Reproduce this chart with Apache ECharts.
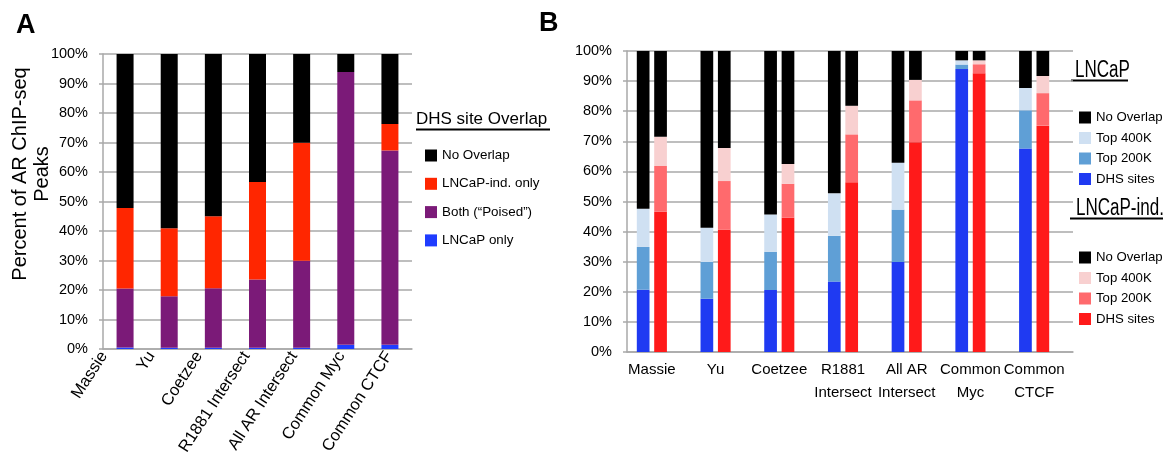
<!DOCTYPE html>
<html>
<head>
<meta charset="utf-8">
<script src="https://cdn.jsdelivr.net/npm/echarts@6/dist/echarts.min.js"></script>
<style>
  html, body { margin: 0; padding: 0; background: #fff; }
  #chart { width: 1172px; height: 458px; }
</style>
</head>
<body>
<div id="chart"></div>
<script>
// ---- Panel A: DHS site overlap of AR ChIP-seq peaks (percent of peaks) ----
const categoriesA = ['Massie', 'Yu', 'Coetzee', 'R1881 Intersect', 'All AR Intersect', 'Common Myc', 'Common CTCF'];
const lncapOnlyA  = [0.5, 0.4, 0.4, 0.4, 0.4, 1.4, 1.4];
const bothPoisedA = [20.0, 17.5, 20.2, 23.2, 29.5, 92.5, 65.9];
const lncapIndA   = [27.3, 23.0, 24.4, 33.0, 40.0, 0.0, 9.0];
const noOverlapA  = [52.2, 59.1, 55.0, 43.4, 30.1, 6.1, 23.7];

// ---- Panel B: overlap with LNCaP and LNCaP-ind. DHS sets ----
const categoriesB = ['Massie', 'Yu', 'Coetzee', 'R1881\nIntersect', 'All AR\nIntersect', 'Common\nMyc', 'Common\nCTCF'];
// LNCaP
const lncapDhs   = [20.7, 17.7, 20.6, 23.4, 29.9, 94.0, 67.6];
const lncap200k  = [14.2, 12.2, 12.7, 15.2, 17.4, 1.5, 12.7];
const lncap400k  = [12.7, 11.4, 12.4, 14.1, 15.6, 1.4, 7.4];
const lncapNone  = [52.4, 58.7, 54.3, 47.3, 37.1, 3.1, 12.3];
// LNCaP-ind.
const indDhs     = [46.6, 40.7, 44.6, 56.4, 69.7, 92.6, 75.2];
const ind200k    = [15.2, 16.1, 11.3, 15.9, 13.9, 3.0, 10.8];
const ind400k    = [9.7, 11.0, 6.6, 9.5, 6.8, 1.3, 5.7];
const indNone    = [28.5, 32.2, 37.5, 18.2, 9.6, 3.1, 8.3];

const yTicks = { min: 0, max: 100, interval: 10 };

const FONT = 'Liberation Sans, Arial, Helvetica, sans-serif';
const GRID_GRAY = '#a9a9a9';

const chart = echarts.init(document.getElementById('chart'), null, { renderer: 'canvas' });

function valueAxis(gridIndex) {
  return {
    type: 'value', gridIndex, min: yTicks.min, max: yTicks.max, interval: yTicks.interval,
    axisLine: { show: true, lineStyle: { color: GRID_GRAY, width: 1.5 } },
    axisTick: { show: true, inside: false, length: 4, lineStyle: { color: GRID_GRAY, width: 1.5 } },
    splitLine: { show: true, lineStyle: { color: GRID_GRAY, width: 1.5 } },
    axisLabel: { show: true, formatter: '{value}%', color: '#000', fontFamily: FONT, fontSize: 14.5, margin: 15 }
  };
}

function hiddenValueAxis(gridIndex) {
  return { type: 'value', gridIndex, min: 0, max: 100, show: false };
}

function barA(name, data, color) {
  return {
    name, type: 'bar', stack: 'A', data, xAxisIndex: 0, yAxisIndex: 0,
    barWidth: 17, itemStyle: { color }
  };
}

function barB(name, stack, data, color) {
  return {
    name, type: 'bar', stack, data, xAxisIndex: 2, yAxisIndex: 2,
    barWidth: 12.7, barGap: '37%', itemStyle: { color }
  };
}

const COL = {
  black: '#000000',
  redA: '#ff2600', purple: '#7b1a78', blueA: '#1f3cff',
  blue: '#1f3af2', blue200: '#5f9fd6', blue400: '#cfe0f2',
  red: '#ff1a1a', red200: '#ff6a6d', red400: '#f8d0d0'
};

const legendText = n => n.split('|')[1];

// narrow heading text for the panel B legends
function heading(text, x, y) {
  return { type: 'text', x, y, scaleX: 0.74,
           style: { text, font: '23px ' + FONT, fill: '#000', verticalAlign: 'top' } };
}

chart.setOption({
  animation: false,
  textStyle: { fontFamily: FONT },
  grid: [
    { left: 103, top: 54, width: 309, height: 295 },      // A: bars and frame
    { left: 627, top: 51, width: 446, height: 301 },      // B: frame and y axis
    { left: 620, top: 51, width: 446, height: 301 },      // B: bars and category labels
    { left: 80.25, top: 54, width: 332.5, height: 295 }   // A: slanted category labels
  ],
  xAxis: [
    { type: 'category', gridIndex: 0, data: categoriesA,
      axisLine: { show: true, lineStyle: { color: GRID_GRAY, width: 1.5 } },
      axisTick: { show: false }, axisLabel: { show: false } },
    { type: 'value', gridIndex: 1, min: 0, max: 1,
      axisLine: { show: true, lineStyle: { color: GRID_GRAY, width: 1.5 } },
      axisTick: { show: false }, axisLabel: { show: false }, splitLine: { show: false } },
    { type: 'category', gridIndex: 2, data: categoriesB,
      axisLine: { show: false }, axisTick: { show: false },
      axisLabel: { color: '#000', fontFamily: FONT, fontSize: 15, lineHeight: 23, margin: 6, interval: 0 } },
    { type: 'category', gridIndex: 3, data: categoriesA,
      axisLine: { show: false }, axisTick: { show: false },
      axisLabel: { color: '#000', fontFamily: FONT, fontSize: 16.5, rotate: 57, margin: 6, interval: 0 } }
  ],
  yAxis: [
    valueAxis(0),
    valueAxis(1),
    hiddenValueAxis(2),
    hiddenValueAxis(3)
  ],
  legend: [
    {
      data: ['A|No Overlap', 'A|LNCaP-ind. only', 'A|Both (“Poised”)', 'A|LNCaP only'],
      formatter: legendText, orient: 'vertical', left: 425, top: 149, padding: 0,
      itemWidth: 12, itemHeight: 12, itemGap: 15.3, itemTextGap: 5, icon: 'rect',
      selectedMode: false,
      textStyle: { fontFamily: FONT, fontSize: 13.4, color: '#000', lineHeight: 12 }
    },
    {
      data: ['L|No Overlap', 'L|Top 400K', 'L|Top 200K', 'L|DHS sites'],
      formatter: legendText, orient: 'vertical', left: 1079, top: 111, padding: 0,
      itemWidth: 12, itemHeight: 12, itemGap: 7.5, itemTextGap: 11, icon: 'rect',
      selectedMode: false,
      textStyle: { fontFamily: FONT, fontSize: 13.2, color: '#000', lineHeight: 12 }
    },
    {
      data: ['I|No Overlap', 'I|Top 400K', 'I|Top 200K', 'I|DHS sites'],
      formatter: legendText, orient: 'vertical', left: 1079, top: 251, padding: 0,
      itemWidth: 12, itemHeight: 12, itemGap: 7.5, itemTextGap: 11, icon: 'rect',
      selectedMode: false,
      textStyle: { fontFamily: FONT, fontSize: 13.2, color: '#000', lineHeight: 12 }
    }
  ],
  graphic: [
    { type: 'text', left: 16, top: 12, style: { text: 'A', font: 'bold 27px ' + FONT, fill: '#000' } },
    { type: 'text', left: 539, top: 10, style: { text: 'B', font: 'bold 27px ' + FONT, fill: '#000' } },
    { type: 'text', x: 31, y: 174, rotation: Math.PI / 2,
      style: { text: 'Percent of AR ChIP-seq\nPeaks', font: '20px ' + FONT, fill: '#000',
               align: 'center', verticalAlign: 'middle', lineHeight: 22 } },
    { type: 'text', left: 416, top: 111, style: { text: 'DHS site Overlap', font: '17px ' + FONT, fill: '#000' } },
    { type: 'line', shape: { x1: 416, y1: 129.5, x2: 550, y2: 129.5 }, style: { stroke: '#000', lineWidth: 2 } },
    heading('LNCaP', 1075, 59),
    { type: 'line', shape: { x1: 1071, y1: 80.5, x2: 1128, y2: 80.5 }, style: { stroke: '#000', lineWidth: 2 } },
    heading('LNCaP-ind.', 1076, 197),
    { type: 'line', shape: { x1: 1070, y1: 218.5, x2: 1163, y2: 218.5 }, style: { stroke: '#000', lineWidth: 2 } }
  ],
  series: [
    barA('A|LNCaP only', lncapOnlyA, COL.blueA),
    barA('A|Both (“Poised”)', bothPoisedA, COL.purple),
    barA('A|LNCaP-ind. only', lncapIndA, COL.redA),
    barA('A|No Overlap', noOverlapA, COL.black),

    barB('L|DHS sites', 'lncap', lncapDhs, COL.blue),
    barB('L|Top 200K', 'lncap', lncap200k, COL.blue200),
    barB('L|Top 400K', 'lncap', lncap400k, COL.blue400),
    barB('L|No Overlap', 'lncap', lncapNone, COL.black),

    barB('I|DHS sites', 'ind', indDhs, COL.red),
    barB('I|Top 200K', 'ind', ind200k, COL.red200),
    barB('I|Top 400K', 'ind', ind400k, COL.red400),
    barB('I|No Overlap', 'ind', indNone, COL.black)
  ]
});
</script>
</body>
</html>
